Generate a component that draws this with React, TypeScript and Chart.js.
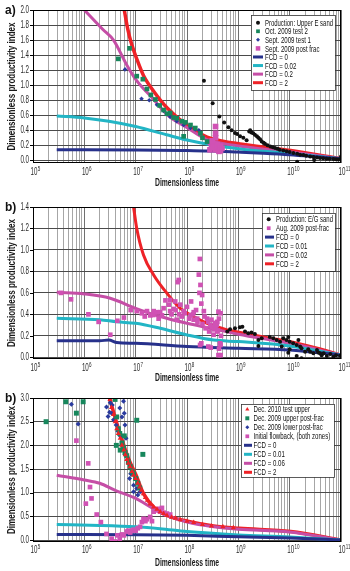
import React, { useEffect, useRef } from 'react';
import { Chart, registerables } from 'chart.js';
Chart.register(...registerables);

const FONT = "'Liberation Sans', Arial, sans-serif";

type Pt = [number, number];

// ---------- axis ticks ----------
const xDecades = [1e5, 1e6, 1e7, 1e8, 1e9, 1e10, 1e11];
const xTickExponents = ['5', '6', '7', '8', '9', '10', '11'];
const xMinorMultiples = [2, 3, 4, 5, 6, 7, 8, 9];
const aYTicks = [0, 0.2, 0.4, 0.6, 0.8, 1.0, 1.2, 1.4, 1.6, 1.8, 2.0];
const bYTicks = [0, 0.2, 0.4, 0.6, 0.8, 1.0, 1.2, 1.4];
const cYTicks = [0, 0.5, 1.0, 1.5, 2.0, 2.5, 3.0];

// ---------- panel a ----------
const aProduction: Pt[] = [
  [2.14e8, 1.06], [3.16e8, 0.76], [4.27e8, 0.585], [5.3e8, 0.505], [6.4e8, 0.44], [7.4e8, 0.4], [8.6e8, 0.364],
  [9.5e8, 0.35], [1.08e9, 0.32], [1.25e9, 0.3], [1.45e9, 0.266], [1.63e9, 0.385], [1.7e9, 0.4], [1.8e9, 0.37],
  [1.95e9, 0.36], [2.1e9, 0.34], [2.3e9, 0.32], [2.45e9, 0.3], [2.65e9, 0.28], [2.85e9, 0.25], [3.1e9, 0.235],
  [3.3e9, 0.22], [3.7e9, 0.2], [4.2e9, 0.186], [4.7e9, 0.175], [5.2e9, 0.165], [5.8e9, 0.155], [6.4e9, 0.142],
  [7.5e9, 0.13], [8.7e9, 0.12], [1.0e10, 0.11], [1.18e10, 0.098], [1.4e10, 0.087], [1.6e10, 0.076],
  [1.85e10, 0.07], [2.1e10, 0.062], [2.5e10, 0.053], [2.9e10, 0.045], [3.4e10, 0.038], [3.9e10, 0.032],
  [4.5e10, 0.028], [5.2e10, 0.023], [6e10, 0.02], [7.1e10, 0.019], [8e10, 0.015], [8.9e10, 0.01],
  [1e11, 0.05], [1.4e10, -0.02], [3e10, 0.005],
];
const aTest2: Pt[] = [
  [4.6e6, 1.35], [7.6e6, 1.49], [1.05e7, 1.12], [1.38e7, 1.08], [1.66e7, 0.95], [1.98e7, 0.87], [2.42e7, 0.81],
  [2.93e7, 0.73], [3.5e7, 0.67], [4.07e7, 0.62], [4.7e7, 0.63], [5.5e7, 0.57], [6.3e7, 0.56], [7.9e7, 0.52],
  [9.3e7, 0.505], [1.17e8, 0.47], [1.45e8, 0.43], [1.83e8, 0.36], [2.46e8, 0.25], [8.6e7, 0.32], [2.0e8, 0.3],
];
const aTest1: Pt[] = [
  [6.2e6, 1.21], [1.3e7, 0.82], [1.84e7, 0.8], [2.6e7, 0.74], [3.5e7, 0.66], [4.7e7, 0.58], [6.3e7, 0.52],
  [8.6e7, 0.47], [1.17e8, 0.43], [1.45e8, 0.41], [1.7e8, 0.4],
];
const aPostFrac: Pt[] = [
  [2.86e8, 0.24], [3.0e8, 0.2], [3.3e8, 0.22], [3.3e8, 0.17], [3.6e8, 0.45], [3.6e8, 0.36], [3.6e8, 0.3],
  [3.6e8, 0.14], [3.9e8, 0.21], [3.9e8, 0.18], [4.2e8, 0.15], [4.2e8, 0.12], [4.5e8, 0.19], [4.5e8, 0.13],
  [4.8e8, 0.16], [3.1e8, 0.26], [2.8e8, 0.14],
];
const aFcd0: Pt[] = [
  [2.9e5, 0.14], [1e6, 0.14], [1e7, 0.138], [1e8, 0.13], [3e8, 0.125], [1e9, 0.11], [3e9, 0.095],
  [1e10, 0.075], [3e10, 0.05], [1e11, 0.02],
];
const aFcd002: Pt[] = [
  [2.9e5, 0.59], [1e6, 0.565], [3e6, 0.52], [1e7, 0.45], [4e7, 0.34], [1e8, 0.27], [3.3e8, 0.2],
  [1e9, 0.155], [1e10, 0.09], [1e11, 0.02],
];
const aFcd02: Pt[] = [
  [1e6, 2.0], [2.3e6, 1.74], [3.7e6, 1.6], [6.7e6, 1.27], [1.02e7, 1.07], [2.24e7, 0.81], [4.07e7, 0.61],
  [1.03e8, 0.43], [2.46e8, 0.275], [8.2e8, 0.2], [1.05e10, 0.11], [1e11, 0.02],
];
const aFcd2: Pt[] = [
  [6e6, 2.0], [7e6, 1.75], [8.3e6, 1.55], [1.05e7, 1.35], [1.42e7, 1.13], [2.24e7, 0.92], [4.07e7, 0.7],
  [1.03e8, 0.46], [2.46e8, 0.31], [8.2e8, 0.23], [1.05e10, 0.13], [1e11, 0.02],
];

// ---------- panel b ----------
const bProduction: Pt[] = [
  [6.1e8, 0.24], [6.9e8, 0.26], [8.6e8, 0.27], [1.07e9, 0.28], [1.2e9, 0.285], [1.35e9, 0.24], [1.56e9, 0.224],
  [1.8e9, 0.23], [2.1e9, 0.217], [2.46e9, 0.16], [2.46e9, 0.105], [2.85e9, 0.177], [4.1e9, 0.19],
  [4.8e9, 0.177], [5.6e9, 0.16], [6.5e9, 0.145], [7e9, 0.1], [7.5e9, 0.177], [8.7e9, 0.16], [9.4e9, 0.19],
  [1e10, 0.145], [1e10, 0.075], [1.17e10, 0.13], [1.37e10, 0.115], [1.48e10, 0.16], [1.6e10, 0.1],
  [1.7e10, 0.084], [2e10, 0.052], [2.3e10, 0.075], [2.5e10, 0.052], [2.9e10, 0.037], [3.4e10, 0.067],
  [3.6e10, 0.045], [3.9e10, 0.037], [4.2e10, 0.02], [4.6e10, 0.037], [5.3e10, 0.012], [6.2e10, 0.03],
  [7.1e10, 0.005], [8e10, 0.02], [9.6e10, 0.015], [4.1e9, -0.02], [9.4e9, 0.043], [1.37e10, 0.012],
  [1.7e10, -0.01],
];
const bPostFrac: Pt[] = [
  [3.5e5, 0.6], [5.5e5, 0.54], [1.2e6, 0.4], [1.9e6, 0.33], [3.2e6, 0.21], [4.4e6, 0.34], [5.9e6, 0.37],
  [8e6, 0.44], [1.05e7, 0.43], [1.32e7, 0.41], [1.5e7, 0.38], [1.66e7, 0.43], [1.92e7, 0.39], [2.2e7, 0.394],
  [2.24e7, 0.43], [2.6e7, 0.42], [2.8e7, 0.36], [3e7, 0.42], [3.25e7, 0.39], [3.5e7, 0.457], [3.8e7, 0.53],
  [4.4e7, 0.49], [4.7e7, 0.43], [4.7e7, 0.534], [5e7, 0.4], [5.5e7, 0.45], [5.9e7, 0.52], [6e7, 0.44],
  [6.3e7, 0.35], [6.6e7, 0.7], [6.9e7, 0.72], [7e7, 0.4], [7.4e7, 0.49], [8e7, 0.38], [8.6e7, 0.43],
  [9e7, 0.41], [1.0e8, 0.47], [1.1e8, 0.36], [1.17e8, 0.39], [1.2e8, 0.52], [1.3e8, 0.4], [1.35e8, 0.35],
  [1.35e8, 0.42], [1.5e8, 0.44], [1.58e8, 0.36], [1.6e8, 0.33], [1.7e8, 0.77], [1.75e8, 0.6], [1.78e8, 0.916],
  [1.8e8, 0.115], [1.83e8, 0.674], [1.9e8, 0.5], [1.9e8, 0.13], [1.97e8, 0.58], [2e8, 0.31], [2.13e8, 0.43],
  [2.2e8, 0.38], [2.3e8, 0.27], [2.46e8, 0.36], [2.6e8, 0.33], [2.6e8, 0.1], [2.7e8, 0.24], [2.86e8, 0.3],
  [2.9e8, 0.09], [3e8, 0.35], [3.1e8, 0.28], [3.3e8, 0.21], [3.4e8, 0.26], [3.5e8, 0.32], [3.6e8, 0.28],
  [3.8e8, 0.3], [3.9e8, 0.33], [3.9e8, 0.24], [4e8, 0.25], [4.1e8, 0.425], [4.1e8, 0.02], [4.2e8, 0.36],
  [4.2e8, 0.08], [4.4e8, 0.13], [4.5e8, 0.41], [4.5e8, 0.115], [4.5e8, 0.02], [4.6e8, 0.2],
];
const bFcd0: Pt[] = [
  [2.9e5, 0.155], [2e6, 0.155], [3e6, 0.16], [4.3e6, 0.137], [1e7, 0.13], [1e8, 0.1], [1e9, 0.084],
  [1e10, 0.068], [1e11, 0.02],
];
const bFcd001: Pt[] = [
  [2.9e5, 0.363], [2e6, 0.35], [4.3e6, 0.33], [1e7, 0.317], [3e7, 0.27], [1e8, 0.208], [3.3e8, 0.16],
  [1e9, 0.146], [1e10, 0.105], [1e11, 0.02],
];
const bFcd002: Pt[] = [
  [2.9e5, 0.605], [1e6, 0.59], [3.2e6, 0.55], [1e7, 0.456], [3e7, 0.38], [1e8, 0.317], [3.3e8, 0.264],
  [1e9, 0.214], [1e10, 0.13], [1e11, 0.02],
];
const bFcd2: Pt[] = [
  [9.1e6, 1.4], [1.05e7, 1.2], [1.42e7, 0.953], [2.24e7, 0.767], [4.07e7, 0.596], [7.4e7, 0.456],
  [1.35e8, 0.38], [2.46e8, 0.317], [6.1e8, 0.255], [1.04e9, 0.233], [3.7e9, 0.183], [1.05e10, 0.146],
  [3.5e10, 0.084], [1e11, 0.02],
];

// ---------- panel c ----------
const cTestUpper: Pt[] = [
  [3.17e6, 2.97], [3.4e6, 2.8], [3.7e6, 2.65], [4e6, 2.5], [4.3e6, 2.35], [4.6e6, 2.25], [5e6, 2.15],
  [5.4e6, 2.0], [5.9e6, 1.9], [6.3e6, 1.8], [6.7e6, 1.7], [7.2e6, 1.62], [7.8e6, 1.55], [8.5e6, 1.45],
  [9.1e6, 1.37], [1.0e7, 1.3], [1.1e7, 1.2], [1.2e7, 1.12], [1.3e7, 1.05], [1.42e7, 0.98], [1.55e7, 0.9],
  [1.7e7, 0.84], [1.92e7, 0.76], [2.24e7, 0.7], [2.6e7, 0.65], [3e7, 0.6], [3.5e7, 0.56], [4.07e7, 0.52],
  [5e7, 0.48], [6e7, 0.46], [7.4e7, 0.43], [1e8, 0.4], [1.35e8, 0.37], [2e8, 0.33], [3e8, 0.3], [5e8, 0.28],
  [8e8, 0.26],
];
const cUpperPostFrac: Pt[] = [
  [1.8e5, 2.5], [4.35e5, 2.92], [7e5, 2.68], [9.5e5, 2.92], [3.97e6, 2.97], [4.27e6, 2.6], [4.6e6, 2.35],
  [4.9e6, 2.25], [5.4e6, 2.05], [5.8e6, 1.95], [6.2e6, 1.85], [6.7e6, 1.78], [7.2e6, 1.65], [7.8e6, 1.55],
  [8.5e6, 1.45], [9.1e6, 1.4], [1.0e7, 1.3], [1.1e7, 1.2], [1.2e7, 1.1], [1.05e7, 2.53], [1.38e7, 1.81],
  [4.2e6, 2.0], [5e6, 1.9], [6e6, 2.2],
];
const cLowerPostFrac: Pt[] = [
  [5.6e5, 2.87], [7.6e5, 2.45], [2.7e6, 2.81], [2.9e6, 2.61], [3.1e6, 2.7], [3.2e6, 2.9], [3.4e6, 2.68],
  [3.5e6, 2.85], [3.7e6, 2.54], [4.16e6, 2.43], [4.5e6, 2.3], [4.9e6, 2.79], [5e6, 2.2], [5.4e6, 2.6],
  [5.4e6, 2.01], [5.8e6, 2.93], [6.0e6, 2.68], [6.2e6, 2.43], [6.2e6, 1.8], [6.5e6, 2.15], [7.2e6, 1.62],
  [7.6e6, 1.3], [8e6, 1.4], [9.1e6, 1.16], [9.1e6, 1.02], [1.05e7, 1.09], [1.1e7, 0.95], [1.22e7, 1.02],
];
const cFlowback: Pt[] = [
  [7e5, 2.1], [1.07e6, 0.77], [1.19e6, 1.62], [1.29e6, 1.12], [1.38e6, 0.88], [1.74e6, 0.54], [2.1e6, 0.38],
  [2.7e6, 0.13], [3.4e6, 0.03], [3.97e6, -0.03], [4.4e6, 0.1], [4.9e6, 0.03], [5.4e6, 0.12], [5.9e6, 0.1],
  [6.7e6, 0.18], [7.2e6, 0.2], [7.8e6, 0.16], [8.5e6, 0.2], [9.1e6, 0.22], [1.0e7, 0.2], [1.1e7, 0.25],
  [1.22e7, 0.28], [1.32e7, 0.38], [1.42e7, 0.45], [1.55e7, 0.4], [1.66e7, 0.44], [1.92e7, 0.49], [2.08e7, 0.4],
  [2.24e7, 0.6], [2.6e7, 0.63], [2.8e7, 0.66], [3.0e7, 0.6], [3.25e7, 0.68], [3.5e7, 0.58], [4.07e7, 0.56],
  [4.7e7, 0.54],
];
const cFcd0: Pt[] = [
  [2.9e5, 0.12], [1e6, 0.12], [1e7, 0.115], [1e8, 0.1], [1e9, 0.07], [1e10, 0.045], [1e11, 0.0],
];
const cFcd001: Pt[] = [
  [2.9e5, 0.33], [2e6, 0.31], [1e7, 0.28], [3e7, 0.24], [1e8, 0.18], [1e9, 0.11], [1e10, 0.065], [1e11, 0.0],
];
const cFcd006: Pt[] = [
  [2.9e5, 1.37], [1e6, 1.27], [2e6, 1.2], [4e6, 1.05], [1e7, 0.88], [2.2e7, 0.665], [4e7, 0.52], [1e8, 0.38],
  [3.3e8, 0.28], [1e9, 0.23], [1e10, 0.17], [1e11, 0.0],
];
const cFcd2: Pt[] = [
  [3.1e6, 3.0], [4e6, 2.58], [5.3e6, 2.15], [7.2e6, 1.73], [1.02e7, 1.37], [1.42e7, 0.98], [2.24e7, 0.7],
  [4.07e7, 0.52], [1.03e8, 0.4], [3.3e8, 0.3], [1.04e9, 0.25], [1.05e10, 0.18], [1e11, 0.0],
];

// ---------- styles ----------
const NAVY = '#27318b';
const CYAN = '#22b5c5';
const MAGENTA = '#c54ea6';
const RED = '#ee2227';
const BLACK = '#111111';
const GREEN = '#17875c';
const BLUE = '#2a3a9e';
const PINK = '#d052b4';

const toXY = (a: Pt[]) => a.map(([x, y]) => ({ x, y }));

const lineDs = (label: string, data: Pt[], color: string, width = 3) => ({
  label,
  data: toXY(data),
  showLine: true,
  borderColor: color,
  backgroundColor: color,
  borderWidth: width,
  pointRadius: 0,
  pointHoverRadius: 0,
  cubicInterpolationMode: 'monotone',
  order: 2,
});

const ptDs = (label: string, data: Pt[], color: string, style: string, r: number) => ({
  label,
  data: toXY(data),
  showLine: false,
  pointStyle: style,
  pointRadius: r,
  pointHoverRadius: r,
  backgroundColor: color,
  borderColor: color,
  borderWidth: 0,
  order: 1,
});

function isDecade(v: number) {
  const l = Math.log10(v);
  return Math.abs(l - Math.round(l)) < 1e-9;
}

const xGridValues: number[] = [];
xDecades.forEach((d, i) => {
  xGridValues.push(d);
  if (i < xDecades.length - 1) xMinorMultiples.forEach((m) => xGridValues.push(m * d));
});

function drawMarker(ctx: CanvasRenderingContext2D, style: string, x: number, y: number, r: number, color: string) {
  ctx.fillStyle = color;
  ctx.beginPath();
  if (style === 'circle') {
    ctx.arc(x, y, r, 0, Math.PI * 2);
  } else if (style === 'rect') {
    const s = Math.SQRT1_2 * r;
    ctx.rect(x - s, y - s, 2 * s, 2 * s);
  } else if (style === 'rectRot') {
    ctx.moveTo(x - r, y);
    ctx.lineTo(x, y - r);
    ctx.lineTo(x + r, y);
    ctx.lineTo(x, y + r);
    ctx.closePath();
  } else if (style === 'triangle') {
    ctx.moveTo(x, y - r);
    ctx.lineTo(x + r * 0.866, y + r * 0.5);
    ctx.lineTo(x - r * 0.866, y + r * 0.5);
    ctx.closePath();
  }
  ctx.fill();
}

function squeezed(ctx: CanvasRenderingContext2D, text: string, x: number, y: number, align: CanvasTextAlign, sx: number) {
  ctx.save();
  ctx.translate(x, y);
  ctx.scale(sx, 1);
  ctx.textAlign = align;
  ctx.fillText(text, 0, 0);
  ctx.restore();
}

const decoPlugin = {
  id: 'deco',
  afterDatasetsDraw(chart: any, _args: any, opts: any) {
    const { ctx, chartArea: ca } = chart;
    const xs = chart.scales.x;
    const ys = chart.scales.y;
    ctx.save();
    // frame
    ctx.strokeStyle = '#000';
    ctx.lineWidth = 1;
    ctx.strokeRect(ca.left + 0.5, ca.top + 0.5, ca.right - ca.left - 1, ca.bottom - ca.top - 1);

    // y ticks and labels
    ctx.fillStyle = '#2a2a2a';
    ctx.textBaseline = 'middle';
    ctx.font = `10px ${FONT}`;
    opts.yTicks.forEach((v: number) => {
      const py = ys.getPixelForValue(v);
      ctx.beginPath();
      ctx.moveTo(ca.left - 3, Math.round(py) + 0.5);
      ctx.lineTo(ca.left, Math.round(py) + 0.5);
      ctx.stroke();
      squeezed(ctx, v.toFixed(1), ca.left - 4, py, 'right', 0.62);
    });

    // x tick labels with superscripts
    ctx.textBaseline = 'middle';
    xDecades.forEach((d, i) => {
      const px = xs.getPixelForValue(d);
      const ty = ca.bottom + opts.xTickGap;
      ctx.font = `10px ${FONT}`;
      const w10 = ctx.measureText('10').width * 0.62;
      squeezed(ctx, '10', px - w10 / 2 + 1, ty, 'left', 0.62);
      ctx.font = `6.5px ${FONT}`;
      squeezed(ctx, xTickExponents[i], px + w10 / 2 + 1.3, ty - 3, 'left', 0.7);
    });

    // axis titles
    ctx.fillStyle = '#1a1a1a';
    ctx.font = `bold 11px ${FONT}`;
    ctx.textAlign = 'center';
    ctx.textBaseline = 'middle';
    ctx.fillText('Dimensionless time', (ca.left + ca.right) / 2, ca.bottom + opts.xTitleGap, 64);
    ctx.save();
    ctx.translate(12, (ca.top + ca.bottom) / 2);
    ctx.rotate(-Math.PI / 2);
    ctx.fillText('Dimensionless productivity index', 0, 0, 128);
    ctx.restore();

    // panel label
    ctx.fillStyle = '#111';
    ctx.font = `bold 12px ${FONT}`;
    ctx.textAlign = 'left';
    ctx.fillText(opts.label, 5, ca.top + 1);

    // legend
    const L = opts.legend;
    ctx.fillStyle = '#fff';
    ctx.fillRect(L.x, L.y, L.w, L.h);
    ctx.strokeStyle = '#333';
    ctx.lineWidth = 0.8;
    ctx.strokeRect(L.x + 0.5, L.y + 0.5, L.w, L.h);
    chart.data.datasets.forEach((ds: any, i: number) => {
      const y = L.row0 + i * L.rowH;
      if (ds.showLine) {
        ctx.strokeStyle = ds.borderColor;
        ctx.lineWidth = 3;
        ctx.beginPath();
        ctx.moveTo(L.lineX0, y);
        ctx.lineTo(L.lineX1, y);
        ctx.stroke();
      } else {
        drawMarker(ctx, ds.pointStyle, L.markX, y, Math.max(2, ds.pointRadius * 0.8), ds.backgroundColor);
      }
      ctx.fillStyle = '#111';
      ctx.textBaseline = 'middle';
      ctx.font = `${L.fontSize}px ${FONT}`;
      const maxW = L.x + L.w - L.textX - 2;
      const natural = ctx.measureText(ds.label).width;
      const sx = Math.min(L.sx, maxW / natural);
      squeezed(ctx, ds.label, L.textX, y + 0.5, 'left', sx);
    });
    ctx.restore();
  },
};

interface PanelSpec {
  top: number;
  height: number;
  areaTop: number;
  areaBottom: number;
  yMin: number;
  yMax: number;
  yTicks: number[];
  label: string;
  xTickGap: number;
  xTitleGap: number;
  legend: any;
  datasets: any[];
}

const panels: PanelSpec[] = [
  {
    top: 0,
    height: 190,
    areaTop: 10,
    areaBottom: 163,
    yMin: -0.035,
    yMax: 2.0,
    yTicks: aYTicks,
    label: 'a)',
    xTickGap: 9,
    xTitleGap: 20,
    legend: { x: 251, y: 15, w: 84, h: 75, row0: 22.7, rowH: 8.57, markX: 258, lineX0: 253, lineX1: 263, textX: 265, fontSize: 9.5, sx: 0.64 },
    datasets: [
      ptDs('Production: Upper E sand', aProduction, BLACK, 'circle', 2),
      ptDs('Oct. 2009 test 2', aTest2, GREEN, 'rect', 3.3),
      ptDs('Sept. 2009 test 1', aTest1, BLUE, 'rectRot', 2.3),
      ptDs('Sept. 2009 post frac', aPostFrac, PINK, 'rect', 4),
      lineDs('FCD = 0', aFcd0, NAVY),
      lineDs('FCD = 0.02', aFcd002, CYAN),
      lineDs('FCD = 0.2', aFcd02, MAGENTA),
      lineDs('FCD = 2', aFcd2, RED, 3.5),
    ],
  },
  {
    top: 190,
    height: 195,
    areaTop: 17,
    areaBottom: 169,
    yMin: -0.016,
    yMax: 1.4,
    yTicks: bYTicks,
    label: 'b)',
    xTickGap: 9,
    xTitleGap: 19,
    legend: { x: 262, y: 23, w: 73, h: 58, row0: 29.3, rowH: 8.9, markX: 268.7, lineX0: 265, lineX1: 274, textX: 276, fontSize: 9.5, sx: 0.64 },
    datasets: [
      ptDs('Production: E/G sand', bProduction, BLACK, 'circle', 2),
      ptDs('Aug. 2009 post-frac', bPostFrac, PINK, 'rect', 3.3),
      lineDs('FCD = 0', bFcd0, NAVY),
      lineDs('FCD = 0.01', bFcd001, CYAN),
      lineDs('FCD = 0.02', bFcd002, MAGENTA),
      lineDs('FCD = 2', bFcd2, RED),
    ],
  },
  {
    top: 385,
    height: 186,
    areaTop: 13,
    areaBottom: 157,
    yMin: -0.04,
    yMax: 3.0,
    yTicks: cYTicks,
    label: 'b)',
    xTickGap: 8,
    xTitleGap: 21,
    legend: { x: 241, y: 19, w: 93, h: 73, row0: 24.3, rowH: 9.0, markX: 247.3, lineX0: 244, lineX1: 252, textX: 253.5, fontSize: 9.5, sx: 0.64 },
    datasets: [
      ptDs('Dec. 2010 test upper', cTestUpper, RED, 'triangle', 3),
      ptDs('Dec. 2009 upper post-frac', cUpperPostFrac, GREEN, 'rect', 3.5),
      ptDs('Dec. 2009 lower post-frac', cLowerPostFrac, BLUE, 'rectRot', 2.5),
      ptDs('Initial flowback, (both zones)', cFlowback, PINK, 'rect', 3.3),
      lineDs('FCD = 0', cFcd0, NAVY),
      lineDs('FCD = 0.01', cFcd001, CYAN),
      lineDs('FCD = 0.06', cFcd006, MAGENTA),
      lineDs('FCD = 2', cFcd2, RED, 3.5),
    ],
  },
];

function Panel({ spec }: { spec: PanelSpec }) {
  const ref = useRef<HTMLCanvasElement>(null);
  useEffect(() => {
    if (!ref.current) return;
    const chart = new Chart(ref.current, {
      type: 'scatter',
      data: { datasets: spec.datasets as any },
      plugins: [decoPlugin as any],
      options: {
        animation: false,
        responsive: false,
        maintainAspectRatio: false,
        events: [],
        layout: { padding: { top: spec.areaTop, right: 9, left: 0, bottom: 0 }, autoPadding: false } as any,
        plugins: {
          legend: { display: false },
          tooltip: { enabled: false },
          deco: {
            label: spec.label,
            legend: spec.legend,
            yTicks: spec.yTicks,
            xTickGap: spec.xTickGap,
            xTitleGap: spec.xTitleGap,
          },
        } as any,
        scales: {
          x: {
            type: 'logarithmic',
            min: 1e5,
            max: 1e11,
            afterBuildTicks: (scale: any) => {
              scale.ticks = xGridValues.map((v) => ({ value: v, major: isDecade(v) }));
            },
            afterFit: (scale: any) => {
              scale.height = spec.height - spec.areaBottom;
            },
            ticks: { display: false, autoSkip: false },
            grid: {
              drawTicks: false,
              color: (ctx: any) => (ctx.tick && isDecade(ctx.tick.value) ? '#707070' : '#a6a6a6'),
              lineWidth: 1,
            },
            border: { display: false },
          },
          y: {
            type: 'linear',
            min: spec.yMin,
            max: spec.yMax,
            afterBuildTicks: (scale: any) => {
              scale.ticks = spec.yTicks.map((v) => ({ value: v }));
            },
            afterFit: (scale: any) => {
              scale.width = 33;
            },
            ticks: { display: false },
            grid: { drawTicks: false, color: '#4a4a4a', lineWidth: 1 },
            border: { display: false },
          },
        } as any,
      },
    });
    return () => chart.destroy();
  }, [spec]);
  return (
    <canvas
      ref={ref}
      width={350}
      height={spec.height}
      style={{ position: 'absolute', left: 0, top: spec.top, width: 350, height: spec.height }}
    />
  );
}

export default function App() {
  return (
    <div style={{ position: 'absolute', left: 0, top: 0, width: 350, height: 571, background: '#fff', overflow: 'hidden' }}>
      {panels.map((p, i) => (
        <Panel key={i} spec={p} />
      ))}
    </div>
  );
}
